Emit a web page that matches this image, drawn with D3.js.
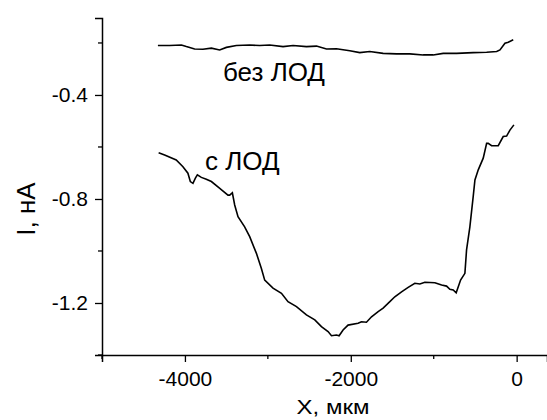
<!DOCTYPE html>
<html>
<head>
<meta charset="utf-8">
<script src="https://cdn.jsdelivr.net/npm/d3@7"></script>
<style>
  body { margin: 0; background: #fff; }
  text { font-family: Arial, "Liberation Sans", sans-serif; fill: #000; }
</style>
</head>
<body>
<div id="chart"></div>
<script>
// curve without LOD (x in um, I in nA)
var bezX = [-4326, -4185, -4043, -3983, -3883, -3783, -3681, -3581, -3500, -3380, -3219, -3098, -2978,
  -2817, -2696, -2535, -2414, -2293, -2173, -2012, -1892, -1771, -1610, -1448, -1288, -1127, -1007,
  -886, -724, -524, -362, -241, -201, -141, -101, -41];
var bezY = [-0.210, -0.210, -0.208, -0.214, -0.223, -0.224, -0.220, -0.227, -0.217, -0.210, -0.208,
  -0.210, -0.208, -0.214, -0.210, -0.214, -0.212, -0.223, -0.222, -0.230, -0.237, -0.233, -0.240,
  -0.242, -0.242, -0.246, -0.246, -0.240, -0.240, -0.237, -0.236, -0.233, -0.227, -0.201, -0.197, -0.188];

// curve with LOD
var sX = [-4317, -4245, -4105, -4024, -3964, -3935, -3903, -3874, -3850, -3802, -3742, -3681, -3580,
  -3481, -3460, -3428, -3400, -3360, -3280, -3219, -3138, -3078, -3038, -2938, -2836, -2757, -2655,
  -2535, -2434, -2354, -2274, -2233, -2173, -2141, -2093, -2033, -1912, -1871, -1811, -1750, -1670,
  -1610, -1529, -1469, -1388, -1308, -1228, -1167, -1107, -986, -905, -845, -805, -765, -729, -676,
  -624, -604, -564, -524, -503, -463, -403, -362, -343, -302, -222, -162, -121, -81, -33];
var sY = [-0.622, -0.631, -0.650, -0.676, -0.701, -0.733, -0.740, -0.720, -0.707, -0.717, -0.724,
  -0.733, -0.759, -0.785, -0.785, -0.776, -0.823, -0.868, -0.907, -0.945, -1.009, -1.067, -1.112,
  -1.143, -1.163, -1.195, -1.214, -1.246, -1.265, -1.291, -1.310, -1.326, -1.323, -1.326, -1.304,
  -1.285, -1.278, -1.272, -1.274, -1.253, -1.233, -1.220, -1.195, -1.176, -1.157, -1.140, -1.124,
  -1.127, -1.120, -1.122, -1.131, -1.135, -1.147, -1.150, -1.161, -1.112, -1.086, -0.996, -0.907,
  -0.791, -0.727, -0.688, -0.643, -0.586, -0.586, -0.595, -0.595, -0.560, -0.558, -0.535, -0.515];

var xMajor = [-4000, -2000, 0];
var xMinor = [-5000, -3000, -1000];
var yMajor = [-0.4, -0.8, -1.2];
var yMinor = [-0.2, -0.6, -1.0, -1.4];

var WIDTH = 547, HEIGHT = 420;

var svg = d3.select('#chart')
    .append("svg")
    .attr("width", WIDTH)
    .attr("height", HEIGHT);

var x = d3.scaleLinear().domain([-5000, 366]).range([102, 547]);
var y = d3.scaleLinear().domain([-1.4, -0.104]).range([355, 18]);

// x axis
var xAxis = d3.axisBottom(x)
    .tickValues(xMajor)
    .tickSize(7)
    .tickPadding(6)
    .tickFormat(function(d) { return d; });
var gx = svg.append("g")
    .attr("transform", "translate(0," + y(-1.4) + ")")
    .call(xAxis);
gx.append("g").selectAll("line")
    .data(xMinor)
    .enter()
    .append("line")
    .attr("x1", function(d) { return x(d); })
    .attr("x2", function(d) { return x(d); })
    .attr("y1", 0)
    .attr("y2", 4);

// y axis
var yAxis = d3.axisLeft(y)
    .tickValues(yMajor)
    .tickSize(7)
    .tickPadding(7)
    .tickFormat(function(d) { return d.toFixed(1); });
var gy = svg.append("g")
    .attr("transform", "translate(" + x(-5000) + ",0)")
    .call(yAxis);
gy.append("g").selectAll("line")
    .data(yMinor)
    .enter()
    .append("line")
    .attr("x1", 0)
    .attr("x2", -4)
    .attr("y1", function(d) { return y(d); })
    .attr("y2", function(d) { return y(d); });

svg.selectAll(".domain").attr("stroke", "#000").attr("stroke-width", 1.5);
svg.selectAll("g line").attr("stroke", "#000").attr("stroke-width", 1.3);
svg.selectAll(".tick text")
    .style("font-size", "21px")
    .style("font-family", "Arial, 'Liberation Sans', sans-serif");
gx.selectAll(".tick text").attr("dy", "0.85em");

// axis titles
svg.append("text")
    .attr("transform", "translate(333,414) scale(1.2,1)")
    .attr("text-anchor", "middle")
    .style("font-size", "20px")
    .text("X, мкм");

svg.append("text")
    .attr("transform", "translate(35,209) rotate(-90)")
    .attr("text-anchor", "middle")
    .style("font-size", "26px")
    .text("I, нА");

// curves
var line = d3.line()
    .x(function(d) { return x(d[0]); })
    .y(function(d) { return y(d[1]); });

var bezData = bezX.map(function(v, i) { return [v, bezY[i]]; });
var sData = sX.map(function(v, i) { return [v, sY[i]]; });

svg.append("path")
    .datum(bezData)
    .attr("d", line)
    .attr("fill", "none")
    .attr("stroke", "#000")
    .attr("stroke-width", 1.6);

svg.append("path")
    .datum(sData)
    .attr("d", line)
    .attr("fill", "none")
    .attr("stroke", "#000")
    .attr("stroke-width", 1.6);

// curve labels
svg.append("text")
    .attr("x", 223)
    .attr("y", 81)
    .style("font-size", "26px")
    .text("без ЛОД");

svg.append("text")
    .attr("x", 205)
    .attr("y", 170)
    .style("font-size", "26px")
    .text("с ЛОД");
</script>
</body>
</html>
